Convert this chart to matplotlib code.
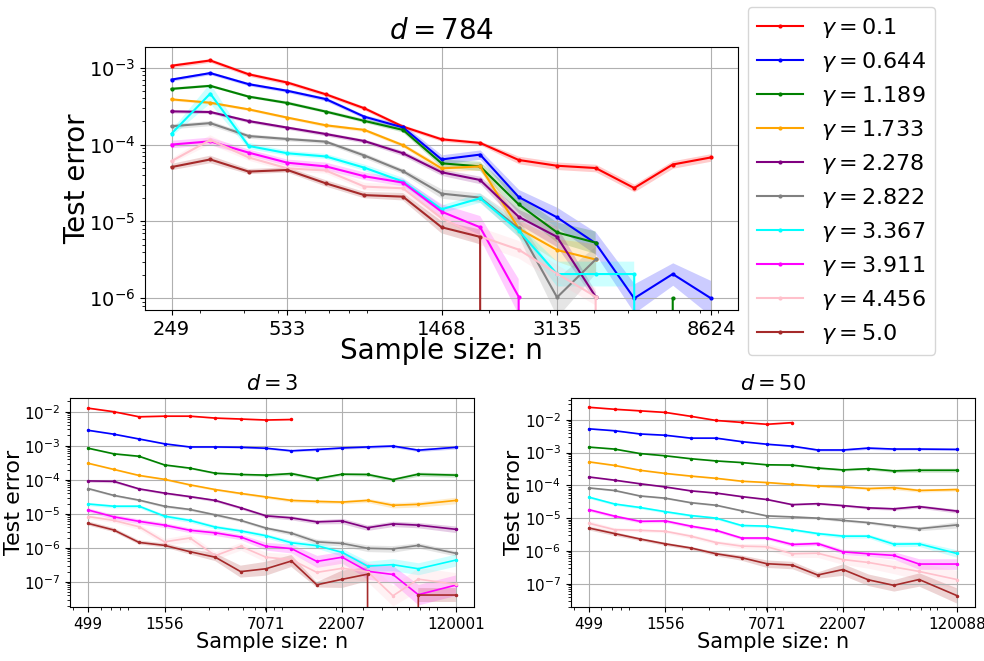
import numpy as np
import matplotlib.pyplot as plt
from matplotlib.ticker import NullFormatter

nan = np.nan

gammas = [0.1, 0.644, 1.189, 1.733, 2.278, 2.822, 3.367, 3.911, 4.456, 5.0]
colors = ["red", "blue", "green", "orange", "purple", "gray", "cyan", "magenta", "pink", "brown"]

# sample sizes
n_784 = [249, 321, 413, 533, 686, 884, 1139, 1468, 1891, 2436, 3135, 4040, 5205, 6705, 8624]
n_3 = [499, 729, 1065, 1556, 2272, 3318, 4845, 7071, 10326, 15080, 22007, 32130, 46910, 68490, 120001]
n_50 = [499, 729, 1065, 1556, 2272, 3318, 4845, 7071, 10326, 15080, 22007, 32130, 46910, 68490, 120088]
tick_idx = [0, 3, 7, 10, 14]

# mean test error, one row per gamma (0 = error reached zero, nan = not run)
err_784 = [
    [1.06e-3, 1.24e-3, 8.2e-4, 6.4e-4, 4.5e-4, 2.96e-4, 1.71e-4, 1.17e-4, 1.05e-4, 6.3e-5, 5.3e-5, 4.95e-5, 2.72e-5, 5.5e-5, 6.8e-5],
    [7.0e-4, 8.5e-4, 6.1e-4, 5.0e-4, 3.9e-4, 2.3e-4, 1.67e-4, 6.4e-5, 7.4e-5, 2.08e-5, 1.13e-5, 5.2e-6, 1.0e-6, 2.07e-6, 1.0e-6],
    [5.3e-4, 5.8e-4, 4.2e-4, 3.47e-4, 2.68e-4, 2.03e-4, 1.55e-4, 5.7e-5, 5.2e-5, 1.67e-5, 7.2e-6, 5.3e-6, nan, 1.0e-6, 0],
    [3.87e-4, 3.5e-4, 2.87e-4, 2.24e-4, 1.78e-4, 1.55e-4, 9.8e-5, 4.9e-5, 5.2e-5, 8.1e-6, 4.25e-6, 3.2e-6, nan, nan, nan],
    [2.7e-4, 2.65e-4, 2.02e-4, 1.66e-4, 1.37e-4, 1.11e-4, 7.7e-5, 4.36e-5, 3.46e-5, 1.15e-5, 6.3e-6, 1.05e-6, nan, nan, nan],
    [1.73e-4, 1.9e-4, 1.29e-4, 1.18e-4, 1.09e-4, 7.2e-5, 4.5e-5, 2.3e-5, 2.04e-5, 8.1e-6, 1.03e-6, 3.2e-6, nan, nan, nan],
    [1.39e-4, 4.6e-4, 9.6e-5, 7.7e-5, 7.0e-5, 5.0e-5, 3.3e-5, 1.44e-5, 2.0e-5, 7.6e-6, 2.07e-6, 2.07e-6, 2.07e-6, 0, 0],
    [1.0e-4, 1.1e-4, 7.85e-5, 5.8e-5, 5.2e-5, 3.87e-5, 3.2e-5, 1.34e-5, 8.4e-6, 1.05e-6, 0, 0, 0, 0, 0],
    [6.1e-5, 1.15e-4, 6.8e-5, 4.9e-5, 4.6e-5, 2.84e-5, 2.7e-5, 1.1e-5, 6.4e-6, 4.3e-6, 2.1e-6, 1.05e-6, 0, 0, 0],
    [5.1e-5, 6.4e-5, 4.45e-5, 4.67e-5, 3.13e-5, 2.2e-5, 2.1e-5, 8.4e-6, 6.3e-6, 0, 0, 0, 0, 0, 0],
]
# spread of the shaded band (multiplicative)
spread_784 = [
    [1.06] * 9 + [1.12] * 6,
    [1.05, 1.05, 1.05, 1.05, 1.06, 1.06, 1.1, 1.15, 1.15, 1.25, 1.35, 1.4, 1.55, 1.4, 1.7],
    [1.04, 1.04, 1.04, 1.05, 1.05, 1.06, 1.08, 1.12, 1.15, 1.3, 1.35, 1.4, 1.0, 1.6, 1.0],
    [1.04, 1.04, 1.04, 1.04, 1.05, 1.05, 1.06, 1.1, 1.12, 1.3, 1.4, 1.6, 1, 1, 1],
    [1.05, 1.05, 1.05, 1.05, 1.06, 1.06, 1.08, 1.1, 1.12, 1.25, 1.35, 1.15, 1, 1, 1],
    [1.08, 1.08, 1.07, 1.06, 1.06, 1.08, 1.08, 1.15, 1.15, 1.3, 1.8, 1.5, 1, 1, 1],
    [1.1, 1.35, 1.1, 1.08, 1.08, 1.1, 1.12, 1.12, 1.15, 1.2, 1.45, 1.45, 1.45, 1, 1],
    [1.12, 1.12, 1.1, 1.1, 1.12, 1.12, 1.12, 1.25, 1.4, 1.7, 1, 1, 1, 1, 1],
    [1.08, 1.15, 1.1, 1.1, 1.1, 1.12, 1.12, 1.2, 1.3, 1.3, 1.3, 1.3, 1, 1, 1],
    [1.1, 1.12, 1.08, 1.08, 1.1, 1.1, 1.12, 1.2, 1.25, 1, 1, 1, 1, 1, 1],
]

err_3 = [
    [1.27e-2, 1.0e-2, 7.1e-3, 7.4e-3, 7.4e-3, 6.5e-3, 6.1e-3, 5.7e-3, 5.9e-3, nan, nan, nan, nan, nan, nan],
    [2.84e-3, 2.19e-3, 1.58e-3, 1.14e-3, 9.2e-4, 9.2e-4, 9.0e-4, 8.45e-4, 7.1e-4, 7.75e-4, 8.6e-4, 9.2e-4, 9.8e-4, 7.4e-4, 9.0e-4],
    [8.45e-4, 5.8e-4, 4.9e-4, 2.73e-4, 2.2e-4, 1.56e-4, 1.43e-4, 1.37e-4, 1.52e-4, 1.08e-4, 1.46e-4, 1.43e-4, 1.01e-4, 1.46e-4, 1.37e-4],
    [3.05e-4, 2.02e-4, 1.34e-4, 1.03e-4, 7.1e-5, 5.15e-5, 3.97e-5, 3.13e-5, 2.47e-5, 2.31e-5, 2.21e-5, 2.47e-5, 1.78e-5, 1.9e-5, 2.47e-5],
    [9.25e-5, 9.0e-5, 5.4e-5, 4.06e-5, 3.2e-5, 2.47e-5, 1.5e-5, 8.7e-6, 7.6e-6, 5.8e-6, 6.15e-6, 3.9e-6, 5.06e-6, 4.64e-6, 3.5e-6],
    [5.5e-5, 3.48e-5, 2.52e-5, 1.67e-5, 1.34e-5, 9.3e-6, 6.4e-6, 3.8e-6, 2.7e-6, 1.5e-6, 1.35e-6, 9.7e-7, 9.3e-7, 1.18e-6, 6.9e-7],
    [1.94e-5, 1.67e-5, 1.67e-5, 8.5e-6, 6.4e-6, 4.07e-6, 3.14e-6, 2.27e-6, 1.41e-6, 1.16e-6, 7.35e-7, 2.9e-7, 3.2e-7, 2.43e-7, 4.37e-7],
    [1.29e-5, 8.15e-6, 6.0e-6, 4.64e-6, 3.28e-6, 2.76e-6, 2.08e-6, 1.11e-6, 9.5e-7, 4.0e-7, 5.3e-7, 2.05e-7, 1.65e-7, 4.2e-8, 8.05e-8],
    [8.3e-6, 6.4e-6, 4.17e-6, 1.5e-6, 1.95e-6, 5.9e-7, 1.11e-6, 5.3e-7, 4.5e-7, 1.9e-7, 2.5e-7, 2.0e-7, 3.9e-8, 1.2e-7, 8.5e-8],
    [5.2e-6, 3.35e-6, 1.44e-6, 1.18e-6, 7.7e-7, 5.3e-7, 2.0e-7, 2.43e-7, 4.1e-7, 8.2e-8, 1.19e-7, 1.68e-7, 0, 4.1e-8, 4.1e-8],
]
spread_3 = [
    [1.04] * 9 + [1] * 6,
    [1.04, 1.04, 1.04, 1.05, 1.05, 1.05, 1.06, 1.06, 1.08, 1.08, 1.08, 1.1, 1.1, 1.1, 1.12],
    [1.05, 1.05, 1.06, 1.06, 1.06, 1.07, 1.08, 1.1, 1.12, 1.1, 1.1, 1.12, 1.12, 1.15, 1.15],
    [1.05, 1.05, 1.06, 1.07, 1.07, 1.08, 1.08, 1.1, 1.12, 1.12, 1.12, 1.15, 1.2, 1.2, 1.25],
    [1.1, 1.1, 1.08, 1.08, 1.08, 1.1, 1.1, 1.12, 1.15, 1.15, 1.2, 1.2, 1.2, 1.2, 1.25],
    [1.08, 1.08, 1.08, 1.1, 1.1, 1.1, 1.1, 1.12, 1.15, 1.2, 1.2, 1.25, 1.25, 1.2, 1.2],
    [1.12, 1.12, 1.12, 1.15, 1.15, 1.15, 1.15, 1.15, 1.2, 1.2, 1.3, 1.4, 1.5, 1.5, 1.5],
    [1.15, 1.18, 1.18, 1.18, 1.18, 1.2, 1.2, 1.3, 1.35, 1.5, 1.5, 1.7, 1.8, 2.0, 2.0],
    [1.15, 1.15, 1.2, 1.25, 1.3, 1.3, 1.3, 1.4, 1.5, 1.6, 1.8, 2.0, 2.0, 2.2, 2.2],
    [1.15, 1.15, 1.15, 1.15, 1.2, 1.3, 1.5, 1.6, 1.5, 1.2, 1.8, 1.6, 1, 1.6, 1.6],
]

err_50 = [
    [2.41e-2, 2.1e-2, 1.88e-2, 1.68e-2, 1.28e-2, 9.55e-3, 8.35e-3, 7.3e-3, 8.2e-3, nan, nan, nan, nan, nan, nan],
    [5.3e-3, 4.64e-3, 3.7e-3, 3.38e-3, 2.76e-3, 2.76e-3, 2.16e-3, 1.8e-3, 1.57e-3, 1.2e-3, 1.2e-3, 1.37e-3, 1.28e-3, 1.28e-3, 1.25e-3],
    [1.47e-3, 1.28e-3, 9.35e-4, 7.98e-4, 6.5e-4, 5.56e-4, 4.97e-4, 4.24e-4, 4.15e-4, 3.38e-4, 2.96e-4, 3.23e-4, 2.76e-4, 2.89e-4, 2.89e-4],
    [5.2e-4, 4.06e-4, 2.89e-4, 2.31e-4, 1.92e-4, 1.64e-4, 1.34e-4, 1.22e-4, 1.07e-4, 9.55e-5, 8.93e-5, 7.98e-5, 8.5e-5, 6.97e-5, 7.46e-5],
    [1.8e-4, 1.44e-4, 1.12e-4, 8.93e-5, 6.8e-5, 5.82e-5, 4.54e-5, 3.7e-5, 2.58e-5, 2.76e-5, 2.41e-5, 2.06e-5, 1.92e-5, 2.25e-5, 1.64e-5],
    [8.35e-5, 6.97e-5, 4.75e-5, 4.06e-5, 2.96e-5, 2.47e-5, 1.68e-5, 1.17e-5, 1.09e-5, 1.0e-5, 8.5e-6, 7.3e-6, 5.82e-6, 4.75e-6, 6.2e-6],
    [4.34e-5, 2.7e-5, 2.11e-5, 1.57e-5, 1.2e-5, 1.0e-5, 5.96e-6, 5.69e-6, 4.44e-6, 3.38e-6, 2.82e-6, 2.82e-6, 1.61e-6, 1.64e-6, 8.35e-7],
    [1.8e-5, 1.15e-5, 7.98e-6, 8.2e-6, 5.69e-6, 4.24e-6, 2.47e-6, 2.47e-6, 1.57e-6, 1.68e-6, 9.35e-7, 8.17e-7, 7.3e-7, 3.97e-7, 3.97e-7],
    [6.96e-6, 4.44e-6, 4.24e-6, 3.96e-6, 2.82e-6, 1.8e-6, 1.4e-6, 1.34e-6, 8.2e-7, 8.5e-7, 5.43e-7, 4.44e-7, 3.24e-7, 2.36e-7, 1.34e-7],
    [4.97e-6, 3.38e-6, 2.31e-6, 1.64e-6, 1.23e-6, 8.17e-7, 6.2e-7, 4.06e-7, 3.7e-7, 1.84e-7, 2.7e-7, 1.31e-7, 8.9e-8, 1.34e-7, 4.34e-8],
]
spread_50 = [
    [1.04] * 9 + [1] * 6,
    [1.04] * 8 + [1.06, 1.08, 1.08, 1.1, 1.08, 1.08, 1.08],
    [1.04] * 8 + [1.06, 1.08, 1.08, 1.1, 1.12, 1.15, 1.15],
    [1.05] * 8 + [1.06, 1.08, 1.08, 1.1, 1.15, 1.12, 1.12],
    [1.05] * 8 + [1.06, 1.08, 1.08, 1.1, 1.1, 1.12, 1.15],
    [1.06] * 8 + [1.08, 1.08, 1.1, 1.1, 1.12, 1.15, 1.25],
    [1.1] * 8 + [1.1, 1.12, 1.15, 1.15, 1.2, 1.2, 1.3],
    [1.12] * 8 + [1.15, 1.15, 1.2, 1.2, 1.3, 1.45, 1.45],
    [1.2, 1.15, 1.12, 1.12, 1.15, 1.15, 1.2, 1.25, 1.3, 1.35, 1.4, 1.5, 1.6, 1.8, 1.9],
    [1.15, 1.15, 1.12, 1.12, 1.12, 1.15, 1.2, 1.3, 1.3, 1.25, 1.5, 1.5, 1.5, 1.6, 1.7],
]


def draw_panel(ax, n, err, spread, title, ylim, big):
    n = np.array(n)
    for g, c, e, s in zip(gammas, colors, err, spread):
        e = np.array(e, dtype=float)
        s = np.array(s, dtype=float)
        ax.fill_between(n, e / s, e * s, color=c, alpha=0.2, linewidth=0)
        ax.plot(n, e, color=c, marker=".", markersize=4 if big else 3,
                linewidth=1.5 if big else 1.2, label=r"$\gamma = %s$" % g)
    ax.set_xscale("log")
    ax.set_yscale("log")
    ax.set_ylim(*ylim)
    ax.set_xticks(n[tick_idx])
    ax.set_xticklabels([str(v) for v in n[tick_idx]])
    ax.xaxis.set_minor_formatter(NullFormatter())
    ax.grid(True, which="major")
    if big:
        ax.set_title(title, fontsize=20)
        ax.set_xlabel("Sample size: n", fontsize=20, labelpad=-1)
        ax.set_ylabel("Test error", fontsize=20, labelpad=-2)
        ax.tick_params(labelsize=14)
    else:
        ax.set_title(title, fontsize=15)
        ax.set_xlabel("Sample size: n", fontsize=15, labelpad=0)
        ax.set_ylabel("Test error", fontsize=16, labelpad=0)
        ax.tick_params(labelsize=11)


fig = plt.figure(figsize=(9.84, 6.61), dpi=100)
ax_top = fig.add_axes([0.147, 0.531, 0.603, 0.398])
ax_l = fig.add_axes([0.071, 0.081, 0.411, 0.317])
ax_r = fig.add_axes([0.580, 0.081, 0.411, 0.317])

draw_panel(ax_top, n_784, err_784, spread_784, r"$d = 784$", (7.05e-7, 1.86e-3), True)
draw_panel(ax_l, n_3, err_3, spread_3, r"$d = 3$", (1.77e-8, 2.54e-2), False)
draw_panel(ax_r, n_50, err_50, spread_50, r"$d = 50$", (1.88e-8, 4.65e-2), False)

handles, labels = ax_top.get_legend_handles_labels()
fig.legend(handles, labels, loc="upper left", bbox_to_anchor=(0.760, 0.9894),
           borderaxespad=0, fontsize=16, handlelength=2.1, labelspacing=0.45)

plt.savefig("out.png", dpi=100)
